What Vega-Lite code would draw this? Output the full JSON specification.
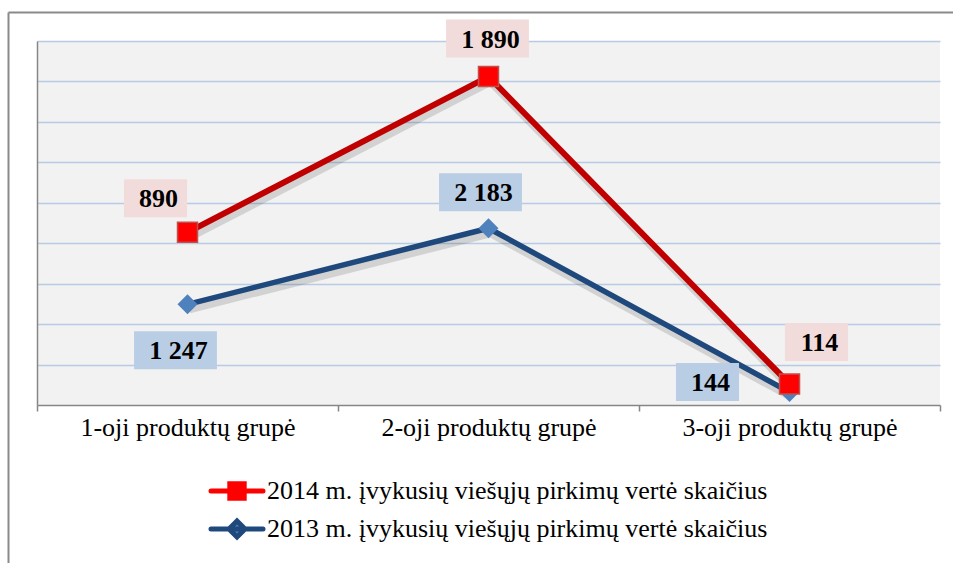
{
  "$schema": "https://vega.github.io/schema/vega-lite/v6.json",
  "width": 903,
  "height": 364,
  "autosize": {"type": "none"},
  "padding": {"left": 37, "top": 41, "right": 13, "bottom": 158},
  "background": "#ffffff",
  "config": {"view": {"fill": "#F2F2F2", "stroke": null}, "font": "Liberation Serif"},
  "data": {
    "values": [
      {"group": "1-oji produktų grupė", "year": "2014", "series": "2014 m. įvykusių viešųjų pirkimų vertė skaičius", "value": 4.27, "label": "890"},
      {"group": "2-oji produktų grupė", "year": "2014", "series": "2014 m. įvykusių viešųjų pirkimų vertė skaičius", "value": 8.12, "label": "1 890"},
      {"group": "3-oji produktų grupė", "year": "2014", "series": "2014 m. įvykusių viešųjų pirkimų vertė skaičius", "value": 0.52, "label": "114"},
      {"group": "1-oji produktų grupė", "year": "2013", "series": "2013 m. įvykusių viešųjų pirkimų vertė skaičius", "value": 2.49, "label": "1 247"},
      {"group": "2-oji produktų grupė", "year": "2013", "series": "2013 m. įvykusių viešųjų pirkimų vertė skaičius", "value": 4.37, "label": "2 183"},
      {"group": "3-oji produktų grupė", "year": "2013", "series": "2013 m. įvykusių viešųjų pirkimų vertė skaičius", "value": 0.32, "label": "144"}
    ]
  },
  "resolve": {"scale": {"x": "independent", "y": "independent"}, "axis": {"x": "independent", "y": "independent"}},
  "layer": [
    {
      "encoding": {
        "x": {"field": "group", "type": "nominal", "sort": null,
          "scale": {"type": "band", "domain": ["1-oji produktų grupė", "2-oji produktų grupė", "3-oji produktų grupė"], "paddingInner": 0, "paddingOuter": 0},
          "axis": {"title": null, "labelAngle": 0, "labelFont": "Liberation Serif", "labelFontSize": 26, "labelColor": "#000000", "labelPadding": 3, "labelLimit": 1000, "tickBand": "extent", "tickSize": 6, "tickColor": "#868686", "tickWidth": 1.5, "domainColor": "#868686", "domainWidth": 1.5, "grid": false}},
        "y": {"field": "value", "type": "quantitative",
          "scale": {"domain": [0, 9], "nice": false, "zero": true},
          "axis": {"title": null, "labels": false, "ticks": false, "values": [1, 2, 3, 4, 5, 6, 7, 8, 9], "grid": true, "gridColor": "#B7CCE4", "gridWidth": 1.5, "domainColor": "#868686", "domainWidth": 1.5}}
      },
      "layer": [
        {"mark": {"type": "line", "color": "#000000", "opacity": 0.13, "strokeWidth": 8, "xOffset": 2, "yOffset": 5}, "encoding": {"detail": {"field": "series"}}},
        {"transform": [{"filter": "datum.year === '2013'"}], "mark": {"type": "line", "color": "#1F497D", "strokeWidth": 5.5}, "encoding": {}},
        {"transform": [{"filter": "datum.year === '2013'"}], "mark": {"type": "point", "shape": "diamond", "size": 400, "filled": true, "fill": "#4F81BD", "opacity": 1, "strokeWidth": 0}},
        {"transform": [{"filter": "datum.year === '2014'"}], "mark": {"type": "line", "color": "#C00000", "strokeWidth": 6}, "encoding": {}},
        {"transform": [{"filter": "datum.year === '2014'"}], "mark": {"type": "point", "shape": "square", "size": 400, "filled": true, "fill": "#FF0000", "stroke": "#C0504D", "strokeWidth": 1.5, "opacity": 1}},
        {"transform": [{"filter": "datum.label === '890'"}], "layer": [
          {"mark": {"type": "point", "shape": "M-1.66,-1H1.66V1H-1.66Z", "size": 1444, "filled": true, "fill": "#F2DCDB", "opacity": 1, "strokeWidth": 0, "xOffset": -32, "yOffset": -34}},
          {"mark": {"type": "text", "font": "Liberation Serif", "fontWeight": "bold", "fontSize": 26, "color": "#000000", "align": "center", "baseline": "middle", "dx": -29, "dy": -33}, "encoding": {"text": {"field": "label"}}}
        ]},
        {"transform": [{"filter": "datum.label === '1 890'"}], "layer": [
          {"mark": {"type": "point", "shape": "M-2.18,-1H2.18V1H-2.18Z", "size": 1444, "filled": true, "fill": "#F2DCDB", "opacity": 1, "strokeWidth": 0, "xOffset": -1, "yOffset": -38}},
          {"mark": {"type": "text", "font": "Liberation Serif", "fontWeight": "bold", "fontSize": 26, "color": "#000000", "align": "center", "baseline": "middle", "dx": 2, "dy": -37}, "encoding": {"text": {"field": "label"}}}
        ]},
        {"transform": [{"filter": "datum.label === '114'"}], "layer": [
          {"mark": {"type": "point", "shape": "M-1.66,-1H1.66V1H-1.66Z", "size": 1444, "filled": true, "fill": "#F2DCDB", "opacity": 1, "strokeWidth": 0, "xOffset": 27, "yOffset": -42}},
          {"mark": {"type": "text", "font": "Liberation Serif", "fontWeight": "bold", "fontSize": 26, "color": "#000000", "align": "center", "baseline": "middle", "dx": 30, "dy": -41}, "encoding": {"text": {"field": "label"}}}
        ]},
        {"transform": [{"filter": "datum.label === '1 247'"}], "layer": [
          {"mark": {"type": "point", "shape": "M-2.18,-1H2.18V1H-2.18Z", "size": 1444, "filled": true, "fill": "#B9CDE5", "opacity": 1, "strokeWidth": 0, "xOffset": -12, "yOffset": 46}},
          {"mark": {"type": "text", "font": "Liberation Serif", "fontWeight": "bold", "fontSize": 26, "color": "#000000", "align": "center", "baseline": "middle", "dx": -9, "dy": 47}, "encoding": {"text": {"field": "label"}}}
        ]},
        {"transform": [{"filter": "datum.label === '2 183'"}], "layer": [
          {"mark": {"type": "point", "shape": "M-2.18,-1H2.18V1H-2.18Z", "size": 1444, "filled": true, "fill": "#B9CDE5", "opacity": 1, "strokeWidth": 0, "xOffset": -8, "yOffset": -36}},
          {"mark": {"type": "text", "font": "Liberation Serif", "fontWeight": "bold", "fontSize": 26, "color": "#000000", "align": "center", "baseline": "middle", "dx": -5, "dy": -35}, "encoding": {"text": {"field": "label"}}}
        ]},
        {"transform": [{"filter": "datum.label === '144'"}], "layer": [
          {"mark": {"type": "point", "shape": "M-1.66,-1H1.66V1H-1.66Z", "size": 1444, "filled": true, "fill": "#B9CDE5", "opacity": 1, "strokeWidth": 0, "xOffset": -82, "yOffset": -10}},
          {"mark": {"type": "text", "font": "Liberation Serif", "fontWeight": "bold", "fontSize": 26, "color": "#000000", "align": "center", "baseline": "middle", "dx": -79, "dy": -9}, "encoding": {"text": {"field": "label"}}}
        ]}
      ]
    },
    {
      "transform": [{"filter": "false"}],
      "mark": {"type": "point", "filled": true, "opacity": 1},
      "encoding": {
        "x": {"field": "value", "type": "quantitative", "scale": {"domain": [0, 1], "range": [-29, 916]},
          "axis": {"orient": "top", "offset": 29, "title": null, "labels": false, "ticks": false, "grid": false, "domainColor": "#8A8A8A", "domainWidth": 2}},
        "y": {"field": "value", "type": "quantitative", "scale": {"domain": [0, 1], "range": [522, -29]},
          "axis": {"orient": "left", "offset": 29, "title": null, "labels": false, "ticks": false, "grid": false, "domainColor": "#8A8A8A", "domainWidth": 2}},
        "fill": {"field": "series", "type": "nominal",
          "scale": {"domain": ["2014 m. įvykusių viešųjų pirkimų vertė skaičius", "2013 m. įvykusių viešųjų pirkimų vertė skaičius"], "range": ["#FF0000", "#4F81BD"]},
          "legend": {"title": null, "orient": "none", "legendX": 187, "legendY": 437, "direction": "vertical", "labelFont": "Liberation Serif", "labelFontSize": 26, "labelColor": "#000000", "labelLimit": 1000, "symbolSize": 400, "symbolStrokeWidth": 5, "symbolOpacity": 1, "labelOffset": 17, "rowPadding": 2, "padding": 0,
            "encode": {"symbols": {"update": {"strokeCap": {"value": "round"}}}}}},
        "stroke": {"field": "series", "type": "nominal",
          "scale": {"domain": ["2014 m. įvykusių viešųjų pirkimų vertė skaičius", "2013 m. įvykusių viešųjų pirkimų vertė skaičius"], "range": ["#FF0000", "#1F497D"]}},
        "shape": {"field": "series", "type": "nominal",
          "scale": {"domain": ["2014 m. įvykusių viešųjų pirkimų vertė skaičius", "2013 m. įvykusių viešųjų pirkimų vertė skaičius"], "range": ["M-2.6,0H2.6M-0.72,-0.72H0.72V0.72H-0.72Z", "M-2.6,0H2.6M0,-0.8L0.8,0L0,0.8L-0.8,0Z"]}}
      }
    }
  ]
}
